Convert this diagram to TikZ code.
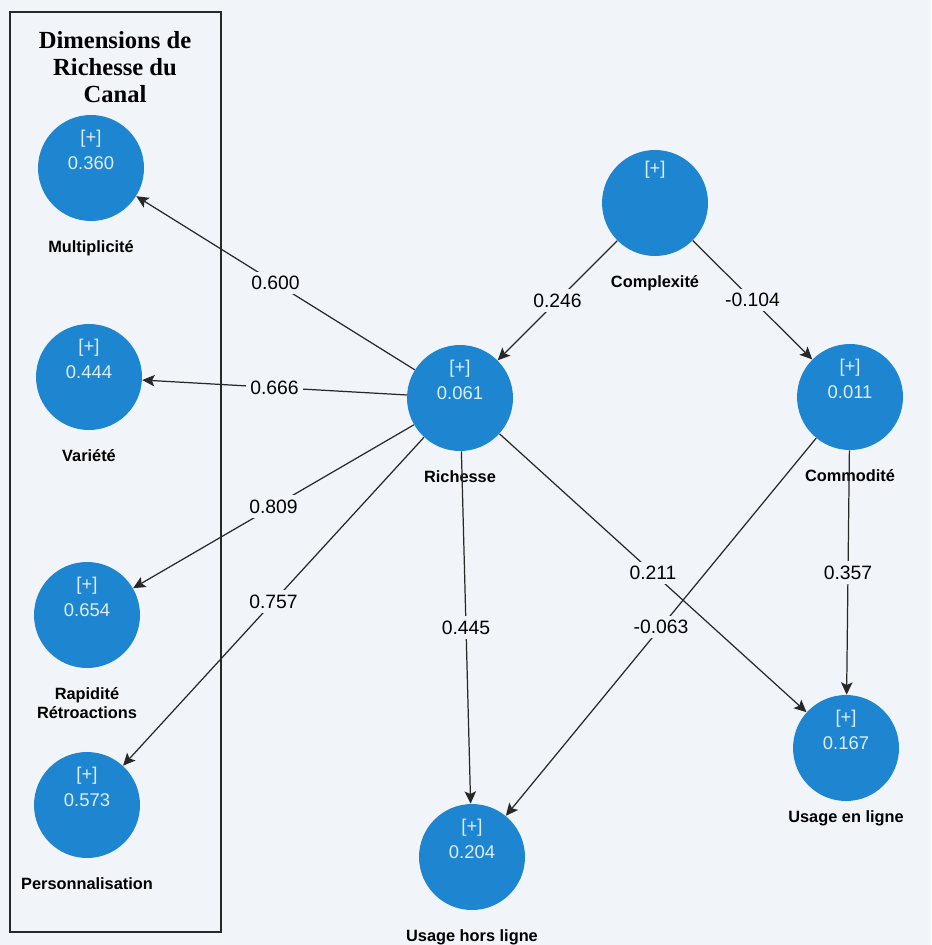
\documentclass[tikz,border=0pt]{standalone}
\usepackage{fontspec}
\setmainfont{Liberation Sans}
\newfontfamily\titlefont{Liberation Serif}
\usetikzlibrary{arrows.meta}
\usetikzlibrary{quotes}
\definecolor{bgcol}{RGB}{241,244,249}
\definecolor{lvblue}{RGB}{30,134,208}
\definecolor{lvtext}{RGB}{222,236,248}
\definecolor{linecol}{RGB}{40,40,40}

\begin{document}
\begin{tikzpicture}[x=0.02cm,y=-0.02cm,>={Stealth[length=7pt,width=6.5pt,inset=1.5pt]},
    every edge quotes/.style={fill=bgcol,font=\fontsize{11}{13}\selectfont,inner sep=2.5pt},
    every edge/.style={draw=linecol,line width=0.7pt},
    lv/.style={circle,fill=lvblue,minimum size=2.12cm,inner sep=0pt},
    inval/.style={yshift=0.36cm,text=lvtext,align=center,font=\fontsize{10.5}{14.5}\selectfont},
    lvname/.style={font=\bfseries\fontsize{9.3}{10.8}\selectfont,align=center,inner sep=0pt,label distance=0.38cm}]
    \fill[bgcol] (0,0) rectangle (931,945);
    \useasboundingbox (0,0) rectangle (931,945);
    % dimensions box
    \draw[draw=linecol,line width=0.8pt] (10,12) rectangle (221,932);
    \node[align=center,font=\titlefont\bfseries\fontsize{14}{15.3}\selectfont] (title) at (115,67) {Dimensions de\\Richesse du\\Canal};
    \node[lv,label={[inval]center:{[+]\\0.360}},label={[lvname]below:Multiplicité}] (mult) at (91,168) {};
    \node[lv,label={[inval]center:{[+]\\0.444}},label={[lvname]below:Variété}] (var) at (89,377) {};
    \node[lv,label={[inval]center:{[+]\\0.654}},label={[lvname]below:Rapidité\\Rétroactions}] (rap) at (87,615) {};
    \node[lv,label={[inval]center:{[+]\\0.573}},label={[lvname]below:Personnalisation}] (pers) at (87,805) {};
    % model
    \node[lv,label={[inval,yshift=0.3cm]center:{[+]}},label={[lvname]below:Complexité}] (comp) at (655,203) {};
    \node[lv,label={[inval]center:{[+]\\0.061}},label={[lvname]below:Richesse}] (rich) at (460,398) {};
    \node[lv,label={[inval]center:{[+]\\0.011}},label={[lvname]below:Commodité}] (comm) at (850,397) {};
    \node[lv,label={[inval]center:{[+]\\0.204}},label={[lvname]below:Usage hors ligne}] (uhl) at (472,857) {};
    \node[lv,label={[inval]center:{[+]\\0.167}},label={[lvname,label distance=0.18cm]below:Usage en ligne}] (uel) at (846,748) {};
    \draw (rich) edge["0.600",->] (mult);
    \draw (rich) edge["0.666",->] (var);
    \draw (rich) edge["0.809",->] (rap);
    \draw (rich) edge["0.757",->] (pers);
    \draw (comp) edge["0.246",->] (rich);
    \draw (comp) edge["-0.104",->] (comm);
    \draw (rich) edge["0.445",->] (uhl);
    \draw (rich) edge["0.211",->] (uel);
    \draw (comm) edge["-0.063",->] (uhl);
    \draw (comm) edge["0.357",->] (uel);
\end{tikzpicture}
\end{document}
